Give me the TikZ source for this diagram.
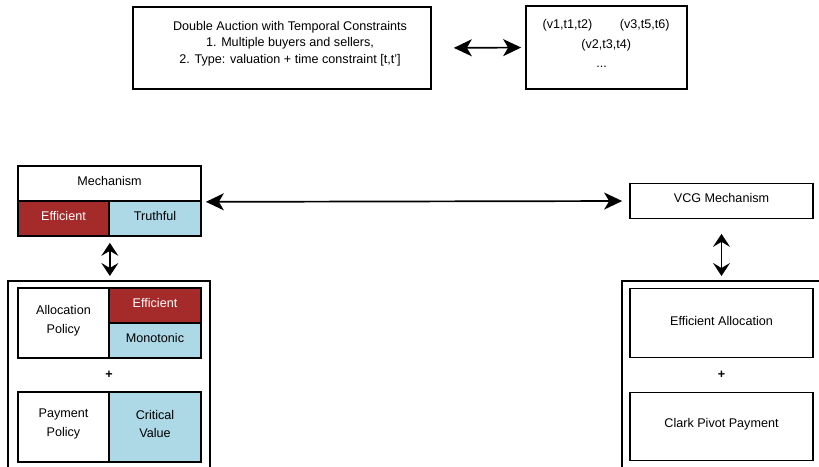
\documentclass[tikz,border=0pt]{standalone}
\usepackage{fontspec}
\setmainfont{Liberation Sans}
\usetikzlibrary{arrows.meta}
\definecolor{effred}{HTML}{A52A2A}
\definecolor{truthblue}{HTML}{ADD8E6}
\begin{document}
\begin{tikzpicture}[x=1pt,y=-1pt,
  every node/.style={font=\fontsize{12.6}{16.5}\selectfont},
  box/.style={draw, line width=1.7pt, inner sep=0pt, fill=white},
  frame/.style={draw, line width=1.7pt, inner sep=0pt},
  txt/.style={inner sep=0pt, align=center},
  two/.style={txt, font=\fontsize{12.6}{18.8}\selectfont},
  redbox/.style={box, fill=effred},
  bluebox/.style={box, fill=truthblue},
  arr/.style={line width=1.7pt, {Stealth[length=#1,width=17pt,inset=5pt]}-{Stealth[length=#1,width=17pt,inset=5pt]}},
  arr/.default=18pt
]
\useasboundingbox (0,0) rectangle (819,466);

% ---- top row: problem statement and type samples ----
\node[box, minimum width=298pt, minimum height=82pt] (auction) at (282,48) {};
\node[txt] (auction-t) at (290,43.5) {Double Auction with Temporal Constraints\\1. Multiple buyers and sellers,\\2. Type: valuation + time constraint [t,t']};

\node[box, minimum width=161pt, minimum height=83pt] (types) at (606.5,47.5) {};
\node[txt] (types-a) at (567.5,25) {(v1,t1,t2)};
\node[txt] (types-b) at (644.7,25) {(v3,t5,t6)};
\node[txt] (types-c) at (606.3,45) {(v2,t3,t4)};
\node[txt] (types-d) at (601.7,67) {...};

\draw[arr, shorten <=22pt, shorten >=4pt] (auction.east) -- (types.west);

% ---- outer frames (run past the lower page edge) ----
\node[frame, minimum width=202pt, minimum height=220pt, anchor=north west] (lframe) at (7,280) {};
\node[frame, minimum width=220pt, minimum height=220pt, anchor=north west] (rframe) at (621,280) {};

% ---- left: mechanism with its properties ----
\node[box, minimum width=183pt, minimum height=35pt] (mech) at (109.5,183.5) {};
\node[txt] (mech-t) at ([yshift=3pt]mech.center) {Mechanism};
\node[redbox, minimum width=91pt, minimum height=35pt] (eff) at (63.5,218.5) {};
\node[txt, text=white] (eff-t) at ([yshift=3pt]eff.center) {Efficient};
\node[bluebox, minimum width=92pt, minimum height=35pt] (truth) at (155,218.5) {};
\node[txt] (truth-t) at ([yshift=3pt]truth.center) {Truthful};

% allocation policy
\node[box, minimum width=91pt, minimum height=70pt] (alloc) at (63.5,323) {};
\node[two] (alloc-t) at ([yshift=2pt]alloc.center) {Allocation\\Policy};
\node[redbox, minimum width=92pt, minimum height=35pt] (aeff) at (155,305.5) {};
\node[txt, text=white] (aeff-t) at ([yshift=3pt]aeff.center) {Efficient};
\node[bluebox, minimum width=92pt, minimum height=35pt] (amono) at (155,340.5) {};
\node[txt] (amono-t) at ([yshift=3pt]amono.center) {Monotonic};

\node[txt] (plusl) at (109,375) {\textbf{+}};

% payment policy
\node[box, minimum width=91pt, minimum height=70pt] (pay) at (63.5,427) {};
\node[two] (pay-t) at ([yshift=3pt]pay.center) {Payment\\Policy};
\node[bluebox, minimum width=92pt, minimum height=70pt] (crit) at (155,427) {};
\node[two] (crit-t) at ([yshift=3pt]crit.center) {Critical\\Value};

% ---- right: VCG ----
\node[box, minimum width=183pt, minimum height=35pt] (vcg) at (721.5,201) {};
\node[txt] (vcg-t) at ([yshift=3pt]vcg.center) {VCG Mechanism};

\node[box, minimum width=183pt, minimum height=69pt] (effalloc) at (721.5,323) {};
\node[txt] (effalloc-t) at ([yshift=2pt]effalloc.center) {Efficient Allocation};
\node[txt] (plusr) at (721.5,375) {\textbf{+}};
\node[box, minimum width=183pt, minimum height=68pt] (clark) at (721.5,426.5) {};
\node[txt] (clark-t) at ([yshift=2pt]clark.center) {Clark Pivot Payment};

% ---- connectors ----
\draw[arr, shorten <=4pt, shorten >=7pt] (mech.south east) -- (vcg.west);
\draw[arr=13pt, shorten <=6pt, shorten >=4pt] (eff.south east) -- (eff.south east |- lframe.north);
\draw[arr=13pt, shorten <=14.5pt, shorten >=4pt] (vcg.south) -- (vcg.south |- rframe.north);
\end{tikzpicture}
\end{document}
